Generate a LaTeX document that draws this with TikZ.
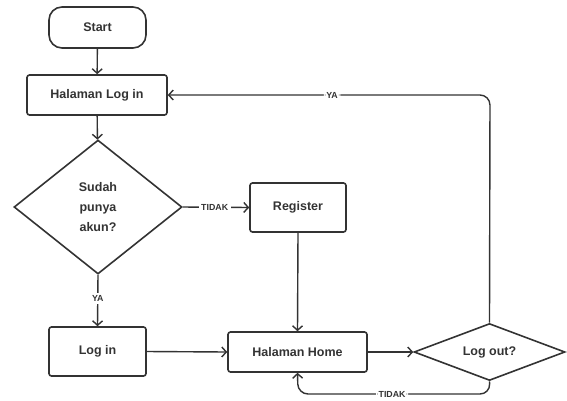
\documentclass[tikz,border=0pt]{standalone}
\usepackage{fontspec}
\setmainfont{Liberation Sans}
\usetikzlibrary{shapes.geometric,arrows.meta}
\definecolor{ink}{HTML}{333333}
\begin{document}
\begin{tikzpicture}[x=1pt,y=-1pt,
  every node/.style={font=\bfseries\fontsize{12.5}{20}\selectfont, text=ink},
  box/.style={draw=ink, line width=1.6pt, rounded corners=2.5pt, inner sep=0pt},
  term/.style={draw=ink, line width=1.6pt, rounded corners=13pt, inner sep=0pt},
  dia/.style={draw=ink, line width=1.6pt, diamond, inner sep=0pt, aspect=2},
  conn/.style={draw=ink, line width=1.4pt, -{Straight Barb[length=4.5pt,width=10pt,line width=1.4pt]}},
  lbl/.style={font=\bfseries\fontsize{8.8}{9}\selectfont, fill=white, inner sep=2.5pt}
]
\useasboundingbox (0,0) rectangle (567,400);
\node[term, minimum width=97pt, minimum height=41pt] (start) at (97.5,27.5) {Start};
\node[box, minimum width=140pt, minimum height=40pt] (login) at (97,95) {Halaman Log in};
\node[dia, minimum width=168pt, minimum height=134pt, align=center] (akun) at (98,207) {Sudah\\punya\\akun?};
\node[box, minimum width=96pt, minimum height=49pt] (reg) at (298,207.5) {Register};
\node[box, minimum width=97pt, minimum height=49pt] (log) at (97.5,351.5) {Log in};
\node[box, minimum width=139pt, minimum height=40pt] (home) at (297.5,352) {Halaman Home};
\node[dia, minimum width=151pt, minimum height=57pt] (out) at (489.5,352) {Log out?};
\coordinate (tr) at (490,95);
\coordinate (br) at (490,394);
\coordinate (bl) at (298,394);

\draw[conn] (start) -- (login);
\draw[conn] (login) -- (akun);
\draw[conn] (akun.east) -- node[lbl, pos=0.48]{TIDAK} (reg.west);
\draw[conn] (akun.south) -- node[lbl, pos=0.47]{YA} (log.north);
\draw[conn] (reg.south) -- (home.north);
\draw[conn] (log.east) -- (home.west);
\draw[conn] (home.east) -- (out.west);
\draw[conn, rounded corners=10pt] (out.north) -- (tr) -- node[lbl, pos=0.49]{YA} (login.east);
\draw[conn, rounded corners=10pt] (out.south) -- (br) -- node[lbl, pos=0.51]{TIDAK} (bl) -- (home.south);
\end{tikzpicture}
\end{document}
